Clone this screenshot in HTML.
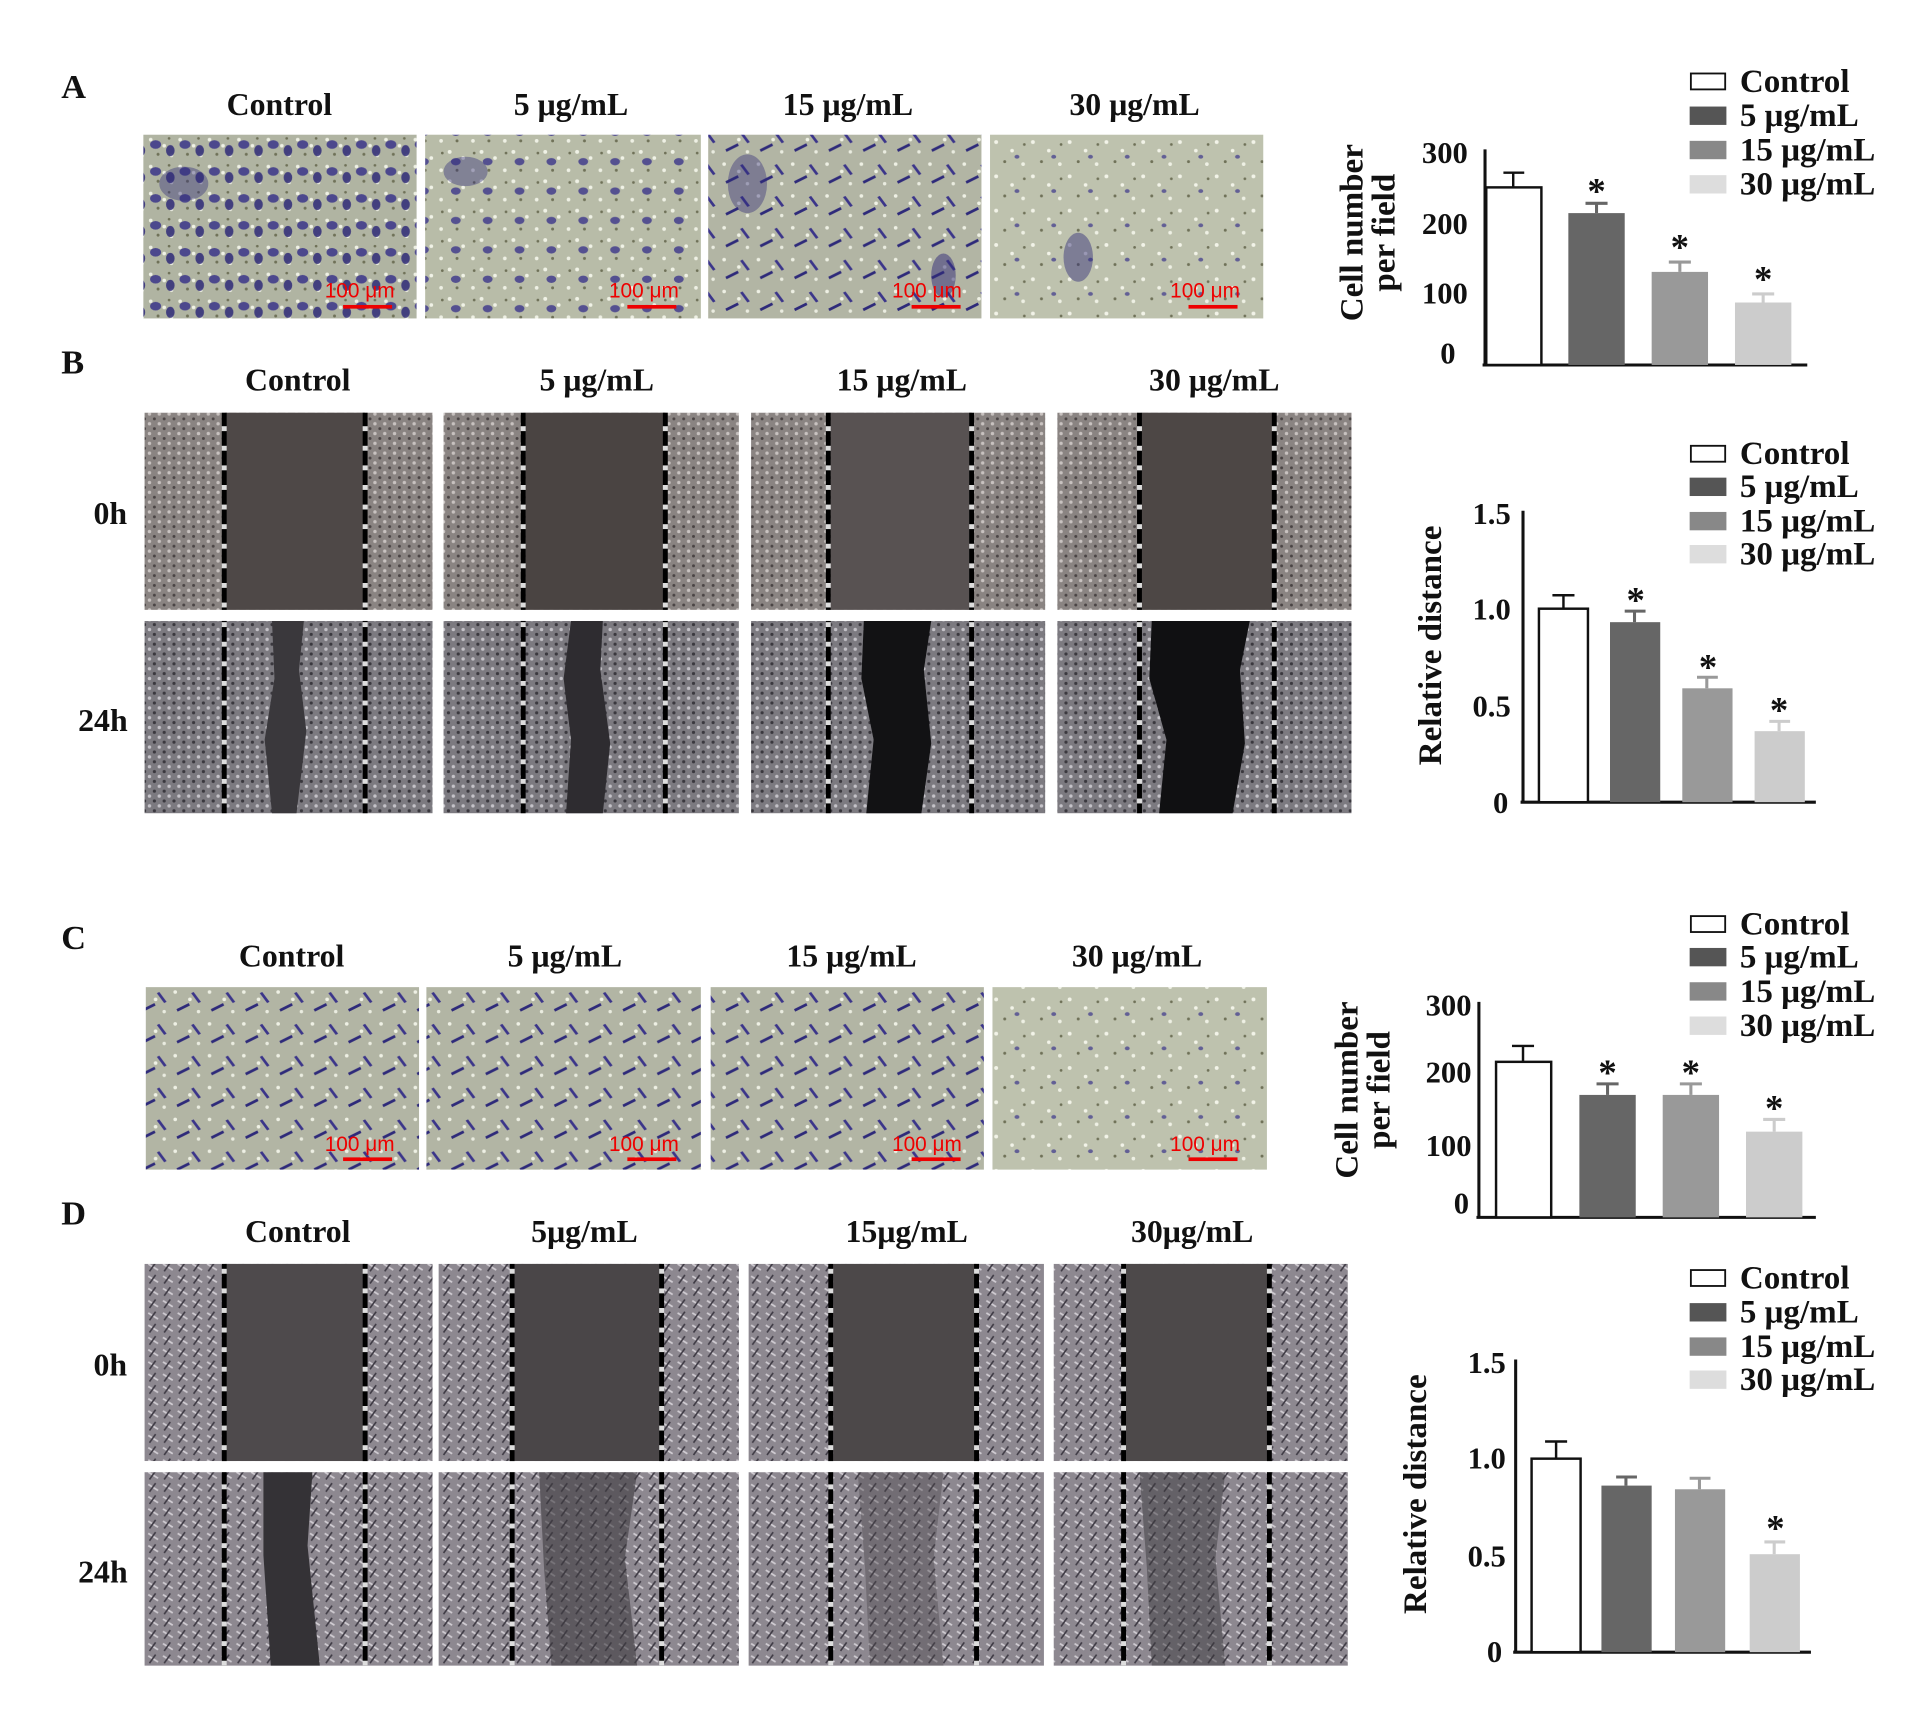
<!DOCTYPE html>
<html><head><meta charset="utf-8"><style>
html,body{margin:0;padding:0;background:#fff;width:1920px;height:1733px;overflow:hidden}
svg{display:block}
text{font-family:"Liberation Serif",serif;font-weight:bold;fill:#111}
</style></head><body>
<svg width="1920" height="1733" viewBox="0 0 1567 1415" preserveAspectRatio="none" xmlns="http://www.w3.org/2000/svg">
<defs>
<pattern id="tw1" width="24" height="22" patternUnits="userSpaceOnUse">
<rect width="24" height="22" fill="#b0b4a2"/>
<circle cx="3" cy="4" r="1.5" fill="#eef0e4"/><circle cx="14" cy="9" r="1.5" fill="#f0f2e6"/><circle cx="20" cy="17" r="1.4" fill="#eaece0"/>
<circle cx="9" cy="16" r="1.2" fill="#6f7158"/><circle cx="18" cy="3" r="1.1" fill="#6f7158"/>
<ellipse cx="7" cy="8" rx="4.5" ry="3.5" fill="#3b358a" opacity=".85"/><ellipse cx="19" cy="13" rx="3.5" ry="4.5" fill="#2f2a78" opacity=".85"/>
</pattern>
<pattern id="tw2" width="26" height="24" patternUnits="userSpaceOnUse">
<rect width="26" height="24" fill="#b8bca8"/>
<circle cx="3" cy="4" r="1.6" fill="#f0f2e6"/><circle cx="14" cy="9" r="1.5" fill="#f0f2e6"/><circle cx="22" cy="19" r="1.5" fill="#eef0e4"/>
<circle cx="9" cy="19" r="1.2" fill="#6f7158"/><circle cx="23" cy="5" r="1.1" fill="#6f7158"/>
<ellipse cx="8" cy="12" rx="4" ry="3" fill="#3b358a" opacity=".8"/>
</pattern>
<pattern id="tw3" width="30" height="28" patternUnits="userSpaceOnUse">
<rect width="30" height="28" fill="#bec2ae"/>
<circle cx="3" cy="4" r="1.6" fill="#f2f3e8"/><circle cx="16" cy="11" r="1.5" fill="#f2f3e8"/><circle cx="25" cy="22" r="1.5" fill="#eef0e4"/>
<circle cx="10" cy="20" r="1.2" fill="#6f7158"/><circle cx="26" cy="6" r="1.1" fill="#6f7158"/>
<ellipse cx="20" cy="16" rx="2" ry="1.6" fill="#3b358a" opacity=".7"/>
</pattern>
<pattern id="tw4" width="28" height="26" patternUnits="userSpaceOnUse">
<rect width="28" height="26" fill="#b2b5a4"/>
<circle cx="3" cy="4" r="1.5" fill="#eef0e4"/><circle cx="15" cy="10" r="1.5" fill="#f0f2e6"/><circle cx="22" cy="20" r="1.4" fill="#eaece0"/>
<path d="M4 18 l10 -5 l1 2 l-10 5z" fill="#2e2a7a"/><path d="M18 4 l6 8 l-2 1 l-6 -8z" fill="#3b358a"/>
</pattern>
<pattern id="wd" width="8" height="8" patternUnits="userSpaceOnUse">
<rect width="8" height="8" fill="#8a8482"/><circle cx="2" cy="2" r="1.4" fill="#c8c2c0"/><circle cx="6" cy="6" r="1.2" fill="#4a4444"/>
</pattern>
<pattern id="wd2" width="8" height="8" patternUnits="userSpaceOnUse">
<rect width="8" height="8" fill="#7c7a80"/><circle cx="2" cy="2" r="1.4" fill="#c4c2c8"/><circle cx="6" cy="6" r="1.3" fill="#3a383e"/>
</pattern>
<pattern id="wdD" width="12" height="10" patternUnits="userSpaceOnUse">
<rect width="12" height="10" fill="#8d8890"/><path d="M1 2 l8 5" stroke="#d0ccd2" stroke-width="1.5"/><path d="M7 1 l-5 7" stroke="#3e3a44" stroke-width="1.3"/>
</pattern>
<pattern id="dash" width="4" height="16" patternUnits="userSpaceOnUse">
<rect width="4" height="12" fill="#000"/><rect y="12" width="4" height="4" fill="#ddd"/>
</pattern>
</defs>

<!-- Panel A -->
<text x="50" y="80" font-size="28">A</text>
<g font-size="26" text-anchor="middle">
<text x="228" y="94">Control</text><text x="466" y="94">5 μg/mL</text><text x="692" y="94">15 μg/mL</text><text x="926" y="94">30 μg/mL</text>
</g>
<rect x="117" y="110" width="223" height="150" fill="url(#tw1)"/>
<rect x="347" y="110" width="225" height="150" fill="url(#tw2)"/>
<rect x="578" y="110" width="223" height="150" fill="url(#tw4)"/>
<rect x="808" y="110" width="223" height="150" fill="url(#tw3)"/>
<g>
<ellipse cx="150" cy="150" rx="20" ry="14" fill="#2f2a78" opacity=".4"/><ellipse cx="380" cy="140" rx="18" ry="12" fill="#2f2a78" opacity=".4"/>
<ellipse cx="610" cy="150" rx="16" ry="24" fill="#2f2a78" opacity=".4"/><ellipse cx="770" cy="225" rx="10" ry="18" fill="#2f2a78" opacity=".5"/>
<ellipse cx="880" cy="210" rx="12" ry="20" fill="#2f2a78" opacity=".45"/>
</g>
<g>
<text x="265" y="243" style="fill:#e00;font-weight:normal;font-family:'Liberation Sans',sans-serif" font-size="17">100 μm</text><rect x="280" y="249" width="40" height="3" fill="#e00"/>
<text x="497" y="243" style="fill:#e00;font-weight:normal;font-family:'Liberation Sans',sans-serif" font-size="17">100 μm</text><rect x="512" y="249" width="40" height="3" fill="#e00"/>
<text x="728" y="243" style="fill:#e00;font-weight:normal;font-family:'Liberation Sans',sans-serif" font-size="17">100 μm</text><rect x="744" y="249" width="40" height="3" fill="#e00"/>
<text x="955" y="243" style="fill:#e00;font-weight:normal;font-family:'Liberation Sans',sans-serif" font-size="17">100 μm</text><rect x="970" y="249" width="40" height="3" fill="#e00"/>
</g>

<!-- Chart A -->
<g stroke="#111" stroke-width="2.5">
<line x1="1212" y1="122" x2="1212" y2="298"/><line x1="1210" y1="298" x2="1475" y2="298"/>
</g>
<g font-size="25" text-anchor="end">
<text x="1198" y="133">300</text><text x="1198" y="191">200</text><text x="1198" y="248">100</text><text x="1188" y="297">0</text>
</g>
<text transform="translate(1112,190) rotate(-90)" font-size="27" text-anchor="middle">Cell number</text>
<text transform="translate(1138,190) rotate(-90)" font-size="27" text-anchor="middle">per field</text>
<g stroke="#111" stroke-width="2">
<rect x="1213" y="153" width="45" height="145" fill="#fff"/>
<line x1="1235" y1="153" x2="1235" y2="141"/><line x1="1227" y1="141" x2="1244" y2="141"/>
</g>
<rect x="1280" y="174" width="46" height="124" fill="#666"/><g stroke="#666" stroke-width="2.5"><line x1="1303" y1="174" x2="1303" y2="166"/><line x1="1294" y1="166" x2="1312" y2="166"/></g>
<rect x="1348" y="222" width="46" height="76" fill="#999"/><g stroke="#999" stroke-width="2.5"><line x1="1371" y1="222" x2="1371" y2="214"/><line x1="1362" y1="214" x2="1380" y2="214"/></g>
<rect x="1416" y="247" width="46" height="51" fill="#ccc"/><g stroke="#ccc" stroke-width="2.5"><line x1="1439" y1="247" x2="1439" y2="240"/><line x1="1430" y1="240" x2="1448" y2="240"/></g>
<g font-size="30" text-anchor="middle"><text x="1303" y="166">*</text><text x="1371" y="212">*</text><text x="1439" y="238">*</text></g>

<g font-size="27">
<rect x="1380" y="60" width="28" height="13" fill="#fff" stroke="#111" stroke-width="1.5"/><text x="1420" y="75">Control</text>
<rect x="1379" y="87" width="30" height="15" fill="#555"/><text x="1420" y="103">5 μg/mL</text>
<rect x="1379" y="115" width="30" height="15" fill="#888"/><text x="1420" y="131">15 μg/mL</text>
<rect x="1379" y="143" width="30" height="15" fill="#ddd"/><text x="1420" y="159">30 μg/mL</text>
</g>

<!-- Panel B -->
<text x="50" y="305" font-size="28">B</text>
<g font-size="26" text-anchor="middle">
<text x="243" y="319">Control</text><text x="487" y="319">5 μg/mL</text><text x="736" y="319">15 μg/mL</text><text x="991" y="319">30 μg/mL</text>
</g>
<text x="90" y="428" font-size="26" text-anchor="middle">0h</text>
<text x="84" y="597" font-size="26" text-anchor="middle">24h</text>
<rect x="118" y="337" width="235" height="161" fill="url(#wd)"/><rect x="184" y="337" width="114" height="161" fill="#4e4847"/>
<rect x="362" y="337" width="241" height="161" fill="url(#wd)"/><rect x="429" y="337" width="114" height="161" fill="#4a4442"/>
<rect x="613" y="337" width="240" height="161" fill="url(#wd)"/><rect x="678" y="337" width="115" height="161" fill="#585252"/>
<rect x="863" y="337" width="240" height="161" fill="url(#wd)"/><rect x="932" y="337" width="108" height="161" fill="#4d4745"/>
<rect x="118" y="507" width="235" height="157" fill="url(#wd2)"/><path d="M222 507 h26 l-4 40 l6 50 l-8 67 h-20 l-6 -60 l8 -50z" fill="#3a383c"/>
<rect x="362" y="507" width="241" height="157" fill="url(#wd2)"/><path d="M466 507 h26 l-2 40 l8 60 l-6 57 h-30 l4 -60 l-6 -50z" fill="#2e2c30"/>
<rect x="613" y="507" width="240" height="157" fill="url(#wd2)"/><path d="M705 507 h55 l-6 40 l6 60 l-8 57 h-45 l6 -60 l-10 -50z" fill="#121214"/>
<rect x="863" y="507" width="240" height="157" fill="url(#wd2)"/><path d="M940 507 h80 l-8 40 l4 60 l-10 57 h-60 l6 -60 l-14 -50z" fill="#101012"/>
<g>
<rect x="181" y="337" width="4" height="327" fill="url(#dash)"/><rect x="296" y="337" width="4" height="327" fill="url(#dash)"/>
<rect x="425" y="337" width="4" height="327" fill="url(#dash)"/><rect x="541" y="337" width="4" height="327" fill="url(#dash)"/>
<rect x="674" y="337" width="4" height="327" fill="url(#dash)"/><rect x="791" y="337" width="4" height="327" fill="url(#dash)"/>
<rect x="928" y="337" width="4" height="327" fill="url(#dash)"/><rect x="1038" y="337" width="4" height="327" fill="url(#dash)"/>
</g>
<rect x="110" y="498" width="1000" height="9" fill="#fff"/>

<!-- Chart B -->
<g stroke="#111" stroke-width="2.5"><line x1="1243" y1="417" x2="1243" y2="655"/><line x1="1241" y1="655" x2="1482" y2="655"/></g>
<g font-size="25" text-anchor="end"><text x="1233" y="428">1.5</text><text x="1233" y="506">1.0</text><text x="1233" y="585">0.5</text><text x="1231" y="664">0</text></g>
<text transform="translate(1176,527) rotate(-90)" font-size="27" text-anchor="middle">Relative distance</text>
<g stroke="#111" stroke-width="2"><rect x="1256" y="497" width="40" height="158" fill="#fff"/><line x1="1276" y1="497" x2="1276" y2="486"/><line x1="1267" y1="486" x2="1285" y2="486"/></g>
<rect x="1314" y="508" width="41" height="147" fill="#666"/><g stroke="#666" stroke-width="2.5"><line x1="1334" y1="508" x2="1334" y2="499"/><line x1="1326" y1="499" x2="1343" y2="499"/></g>
<rect x="1373" y="562" width="41" height="93" fill="#999"/><g stroke="#999" stroke-width="2.5"><line x1="1393" y1="562" x2="1393" y2="553"/><line x1="1385" y1="553" x2="1402" y2="553"/></g>
<rect x="1432" y="597" width="41" height="58" fill="#ccc"/><g stroke="#ccc" stroke-width="2.5"><line x1="1452" y1="597" x2="1452" y2="589"/><line x1="1444" y1="589" x2="1461" y2="589"/></g>
<g font-size="30" text-anchor="middle"><text x="1335" y="500">*</text><text x="1394" y="555">*</text><text x="1452" y="590">*</text></g>
<g font-size="27">
<rect x="1380" y="364" width="28" height="13" fill="#fff" stroke="#111" stroke-width="1.5"/><text x="1420" y="379">Control</text>
<rect x="1379" y="390" width="30" height="15" fill="#555"/><text x="1420" y="406">5 μg/mL</text>
<rect x="1379" y="418" width="30" height="15" fill="#888"/><text x="1420" y="434">15 μg/mL</text>
<rect x="1379" y="445" width="30" height="15" fill="#ddd"/><text x="1420" y="461">30 μg/mL</text>
</g>

<!-- Panel C -->
<text x="50" y="775" font-size="28">C</text>
<g font-size="26" text-anchor="middle">
<text x="238" y="789">Control</text><text x="461" y="789">5 μg/mL</text><text x="695" y="789">15 μg/mL</text><text x="928" y="789">30 μg/mL</text>
</g>
<rect x="119" y="806" width="223" height="149" fill="url(#tw4)"/>
<rect x="348" y="806" width="224" height="149" fill="url(#tw4)"/>
<rect x="580" y="806" width="223" height="149" fill="url(#tw4)"/>
<rect x="810" y="806" width="224" height="149" fill="url(#tw3)"/>
<g>
<text x="265" y="940" style="fill:#e00;font-weight:normal;font-family:'Liberation Sans',sans-serif" font-size="17">100 μm</text><rect x="280" y="945" width="40" height="3" fill="#e00"/>
<text x="497" y="940" style="fill:#e00;font-weight:normal;font-family:'Liberation Sans',sans-serif" font-size="17">100 μm</text><rect x="512" y="945" width="40" height="3" fill="#e00"/>
<text x="728" y="940" style="fill:#e00;font-weight:normal;font-family:'Liberation Sans',sans-serif" font-size="17">100 μm</text><rect x="744" y="945" width="40" height="3" fill="#e00"/>
<text x="955" y="940" style="fill:#e00;font-weight:normal;font-family:'Liberation Sans',sans-serif" font-size="17">100 μm</text><rect x="970" y="945" width="40" height="3" fill="#e00"/>
</g>
<g stroke="#111" stroke-width="2.5"><line x1="1207" y1="818" x2="1207" y2="994"/><line x1="1205" y1="994" x2="1482" y2="994"/></g>
<g font-size="25" text-anchor="end"><text x="1201" y="829">300</text><text x="1201" y="884">200</text><text x="1201" y="944">100</text><text x="1199" y="991">0</text></g>
<text transform="translate(1108,890) rotate(-90)" font-size="27" text-anchor="middle">Cell number</text>
<text transform="translate(1134,890) rotate(-90)" font-size="27" text-anchor="middle">per field</text>
<g stroke="#111" stroke-width="2"><rect x="1221" y="867" width="45" height="127" fill="#fff"/><line x1="1243" y1="867" x2="1243" y2="854"/><line x1="1234" y1="854" x2="1252" y2="854"/></g>
<rect x="1289" y="894" width="46" height="100" fill="#666"/><g stroke="#666" stroke-width="2.5"><line x1="1312" y1="894" x2="1312" y2="885"/><line x1="1303" y1="885" x2="1321" y2="885"/></g>
<rect x="1357" y="894" width="46" height="100" fill="#999"/><g stroke="#999" stroke-width="2.5"><line x1="1380" y1="894" x2="1380" y2="885"/><line x1="1371" y1="885" x2="1389" y2="885"/></g>
<rect x="1425" y="924" width="46" height="70" fill="#ccc"/><g stroke="#ccc" stroke-width="2.5"><line x1="1448" y1="924" x2="1448" y2="914"/><line x1="1439" y1="914" x2="1457" y2="914"/></g>
<g font-size="30" text-anchor="middle"><text x="1312" y="886">*</text><text x="1380" y="886">*</text><text x="1448" y="915">*</text></g>
<g font-size="27">
<rect x="1380" y="748" width="28" height="13" fill="#fff" stroke="#111" stroke-width="1.5"/><text x="1420" y="763">Control</text>
<rect x="1379" y="774" width="30" height="15" fill="#555"/><text x="1420" y="790">5 μg/mL</text>
<rect x="1379" y="802" width="30" height="15" fill="#888"/><text x="1420" y="818">15 μg/mL</text>
<rect x="1379" y="830" width="30" height="15" fill="#ddd"/><text x="1420" y="846">30 μg/mL</text>
</g>

<!-- Panel D -->
<text x="50" y="1000" font-size="28">D</text>
<g font-size="26" text-anchor="middle">
<text x="243" y="1014">Control</text><text x="477" y="1014">5μg/mL</text><text x="740" y="1014">15μg/mL</text><text x="973" y="1014">30μg/mL</text>
</g>
<text x="90" y="1123" font-size="26" text-anchor="middle">0h</text>
<text x="84" y="1292" font-size="26" text-anchor="middle">24h</text>
<rect x="118" y="1032" width="235" height="161" fill="url(#wdD)"/><rect x="184" y="1032" width="114" height="161" fill="#4e4a4c"/>
<rect x="358" y="1032" width="245" height="161" fill="url(#wdD)"/><rect x="420" y="1032" width="120" height="161" fill="#4a4648"/>
<rect x="611" y="1032" width="241" height="161" fill="url(#wdD)"/><rect x="680" y="1032" width="117" height="161" fill="#4c4849"/>
<rect x="860" y="1032" width="240" height="161" fill="url(#wdD)"/><rect x="919" y="1032" width="117" height="161" fill="#4d494a"/>
<rect x="118" y="1202" width="235" height="158" fill="url(#wdD)"/><path d="M215 1202 h40 l-4 60 l10 98 h-40 l-6 -90z" fill="#343236"/>
<rect x="358" y="1202" width="245" height="158" fill="url(#wdD)"/><path d="M440 1202 h80 l-10 70 l10 88 h-70 l-6 -80z" fill="#3e3b40" opacity=".6"/>
<rect x="611" y="1202" width="241" height="158" fill="url(#wdD)"/><path d="M700 1202 h70 l-8 70 l8 88 h-60 l-4 -80z" fill="#4a474c" opacity=".4"/>
<rect x="860" y="1202" width="240" height="158" fill="url(#wdD)"/><path d="M930 1202 h70 l-8 70 l8 88 h-60 l-4 -80z" fill="#3c393e" opacity=".5"/>
<g>
<rect x="181" y="1032" width="4" height="328" fill="url(#dash)"/><rect x="296" y="1032" width="4" height="328" fill="url(#dash)"/>
<rect x="416" y="1032" width="4" height="328" fill="url(#dash)"/><rect x="538" y="1032" width="4" height="328" fill="url(#dash)"/>
<rect x="676" y="1032" width="4" height="328" fill="url(#dash)"/><rect x="795" y="1032" width="4" height="328" fill="url(#dash)"/>
<rect x="915" y="1032" width="4" height="328" fill="url(#dash)"/><rect x="1034" y="1032" width="4" height="328" fill="url(#dash)"/>
</g>
<rect x="110" y="1193" width="1000" height="9" fill="#fff"/>

<g stroke="#111" stroke-width="2.5"><line x1="1237" y1="1110" x2="1237" y2="1349"/><line x1="1235" y1="1349" x2="1478" y2="1349"/></g>
<g font-size="25" text-anchor="end"><text x="1229" y="1121">1.5</text><text x="1229" y="1199">1.0</text><text x="1229" y="1279">0.5</text><text x="1226" y="1357">0</text></g>
<text transform="translate(1164,1220) rotate(-90)" font-size="27" text-anchor="middle">Relative distance</text>
<g stroke="#111" stroke-width="2"><rect x="1250" y="1191" width="40" height="158" fill="#fff"/><line x1="1270" y1="1191" x2="1270" y2="1177"/><line x1="1261" y1="1177" x2="1279" y2="1177"/></g>
<rect x="1307" y="1213" width="41" height="136" fill="#666"/><g stroke="#666" stroke-width="2.5"><line x1="1327" y1="1213" x2="1327" y2="1206"/><line x1="1319" y1="1206" x2="1336" y2="1206"/></g>
<rect x="1367" y="1216" width="41" height="133" fill="#999"/><g stroke="#999" stroke-width="2.5"><line x1="1387" y1="1216" x2="1387" y2="1207"/><line x1="1379" y1="1207" x2="1396" y2="1207"/></g>
<rect x="1428" y="1269" width="41" height="80" fill="#ccc"/><g stroke="#ccc" stroke-width="2.5"><line x1="1448" y1="1269" x2="1448" y2="1259"/><line x1="1440" y1="1259" x2="1457" y2="1259"/></g>
<text x="1449" y="1258" font-size="30" text-anchor="middle">*</text>
<g font-size="27">
<rect x="1380" y="1037" width="28" height="13" fill="#fff" stroke="#111" stroke-width="1.5"/><text x="1420" y="1052">Control</text>
<rect x="1379" y="1064" width="30" height="15" fill="#555"/><text x="1420" y="1080">5 μg/mL</text>
<rect x="1379" y="1092" width="30" height="15" fill="#888"/><text x="1420" y="1108">15 μg/mL</text>
<rect x="1379" y="1119" width="30" height="15" fill="#ddd"/><text x="1420" y="1135">30 μg/mL</text>
</g>
</svg>
</body></html>
